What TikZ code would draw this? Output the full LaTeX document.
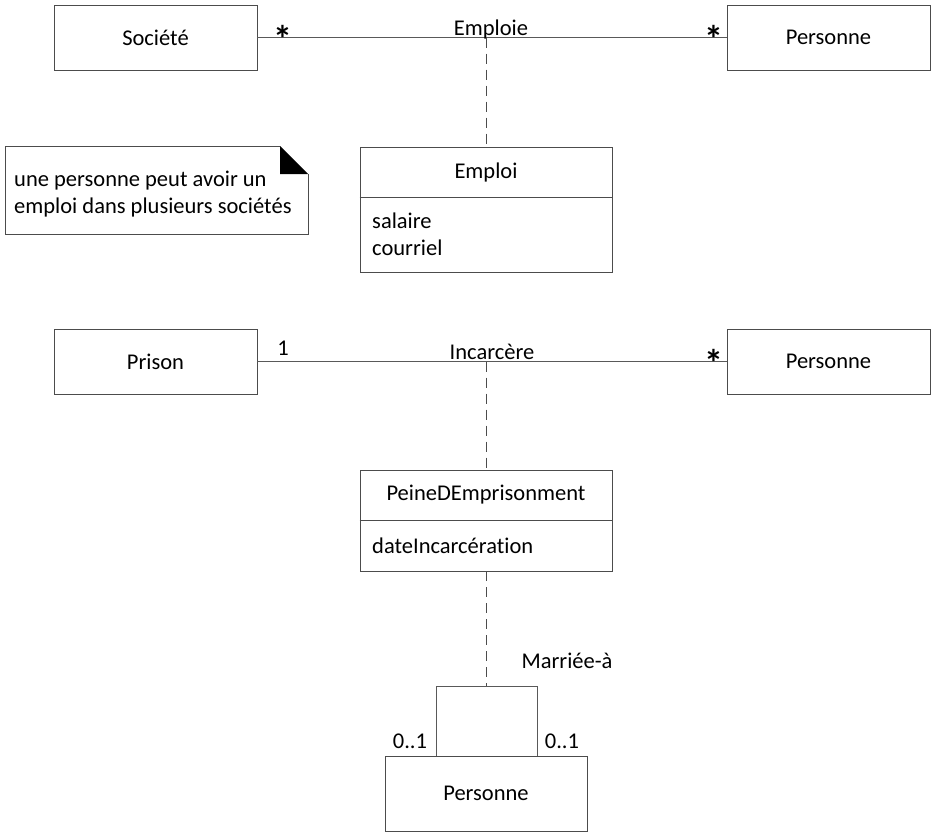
\documentclass[tikz,border=0pt]{standalone}
\usepackage{fontspec}
\setmainfont{Carlito}[Ligatures=NoCommon]
\begin{document}
\begin{tikzpicture}[x=1pt,y=-1pt,
  every node/.style={font=\fontsize{22.5}{27}\selectfont, inner sep=0pt},
  cls/.style={draw=black!70, line width=0.9pt, minimum width=203pt, minimum height=65pt},
  box/.style={draw=black!70, line width=0.9pt},
  assoc/.style={draw=black!65, line width=0.9pt},
  dashline/.style={draw=black!70, line width=0.8pt, dash pattern=on 10pt off 6pt},
  star/.style={font=\fontsize{38}{38}\selectfont\bfseries},
  lbl/.style={anchor=base}]
\useasboundingbox (0,0) rectangle (938,838);

% --- top association
\node[cls] (soc) at (155.5,37.5) {Société};
\node[cls] (pers1) at (828.5,37.5) {Personne};
\draw[assoc] (soc.east) -- (pers1.west);
\node[lbl] (emploie) at (491,35) {Emploie};
\node[star] (s1) at (283,39) {*};
\node[star] (s2) at (714,39) {*};
\coordinate (e1) at (486,37.5);

\node[box, minimum width=252pt, minimum height=125pt] (emploi) at (486,209.5) {};
\node (emploiT) at (486,172) {Emploi};
\draw[box] (emploi.west |- 0,197) -- (emploi.east |- 0,197);
\node[anchor=west] (sal) at (372,221) {salaire};
\node[anchor=west] (cou) at (372,248) {courriel};
\draw[dashline] (e1) -- (emploi.north);

% --- note
\node[align=left, anchor=west] (note) at (14,194) {une personne peut avoir un\\emploi dans plusieurs sociétés};
\draw[box] (280,146) -- (5,146) -- (5,234) -- (308,234) -- (308,174);
\fill[black] (280,146) -- (308,174) -- (280,174) -- cycle;

% --- middle association
\node[cls] (prison) at (155.5,361.5) {Prison};
\node[cls] (pers2) at (828.5,361.5) {Personne};
\draw[assoc] (prison.east) -- (pers2.west);
\node[lbl] (one) at (283,355) {1};
\node[lbl] (incar) at (492,359) {Incarcère};
\node[star] (s3) at (714,363) {*};
\coordinate (e2) at (486,361.5);

\node[box, minimum width=252pt, minimum height=101pt] (peine) at (486,520.5) {};
\node (peineT) at (486,495) {PeineDEmprisonment};
\draw[box] (peine.west |- 0,520) -- (peine.east |- 0,520);
\node[anchor=west] (date) at (372,546) {dateIncarcération};
\draw[dashline] (e2) -- (peine.north);

% --- self association
\node[cls, minimum width=202pt, minimum height=75pt] (pers3) at (486,793.5) {Personne};
\coordinate (lt) at (436,686);
\coordinate (rt) at (537,686);
\coordinate (lm) at (486,686);
\draw[assoc] (pers3.north -| lt) -- (lt) -- (rt) -- (pers3.north -| rt);
\draw[dashline] (peine.south) -- (lm);
\node[lbl] (mar) at (567,668) {Marriée-à};
\node[lbl] (m1) at (410,748) {0..1};
\node[lbl] (m2) at (562,748) {0..1};
\end{tikzpicture}
\end{document}
